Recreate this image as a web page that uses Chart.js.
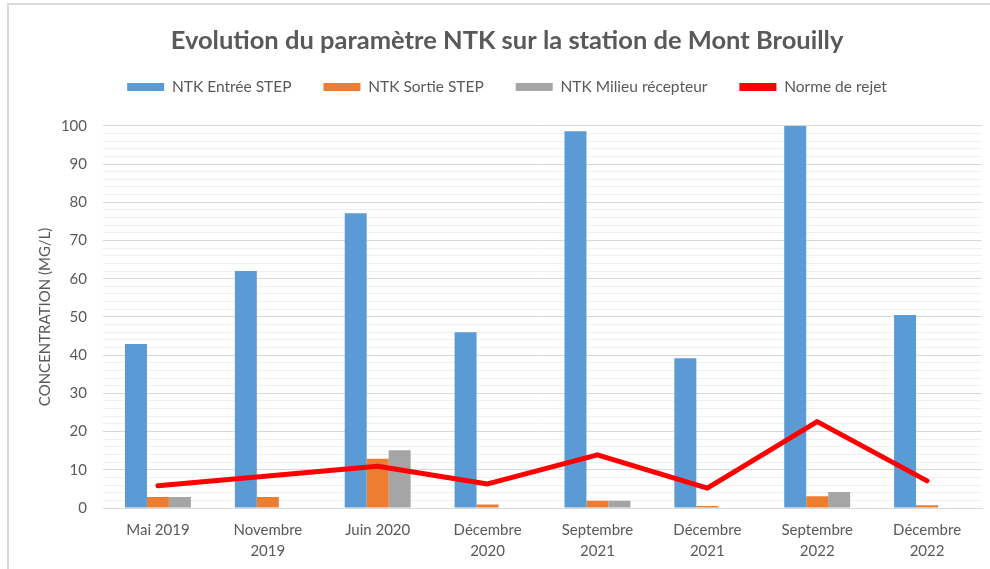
<!DOCTYPE html>
<html lang="fr">
<head>
<meta charset="utf-8">
<title>Evolution du paramètre NTK</title>
<script src="https://cdn.jsdelivr.net/npm/chart.js@4.4.0/dist/chart.umd.min.js"></script>
<style>
  html, body { margin: 0; padding: 0; background: #fff; overflow: hidden; }
  #frame { position: absolute; left: 7px; top: 3px; width: 1200px; height: 800px; border: 2px solid #d9d9d9; }
  #chart { position: absolute; left: 0; top: 0; }
</style>
</head>
<body>
<div id="frame"></div>
<canvas id="chart" width="990" height="569"></canvas>
<script>
// Campagnes de mesure
const campagnes = [
  'Mai 2019',
  ['Novembre', '2019'],
  'Juin 2020',
  ['Décembre', '2020'],
  ['Septembre', '2021'],
  ['Décembre', '2021'],
  ['Septembre', '2022'],
  ['Décembre', '2022']
];

// Concentrations NTK (mg/L)
const ntkEntree = [42.9, 62.0, 77.1, 46.0, 98.6, 39.2, 100, 50.5];
const ntkSortie = [2.9, 2.9, 12.9, 0.9, 1.9, 0.5, 3.1, 0.7];
const ntkMilieu = [2.9, null, 15.1, null, 1.9, null, 4.2, null];
const normeRejet = [5.8, 8.4, 10.9, 6.3, 13.9, 5.2, 22.6, 7.1];

// Graduations de l'axe vertical
const yMin = 0;
const yMax = 100;
const yPasMineur = 2;
const yPasMajeur = 10;

const gris = '#595959';
Chart.defaults.font.family = 'Lato, "Liberation Sans", sans-serif';
Chart.defaults.color = gris;

// laisse un peu d'air entre la légende et la zone de tracé
const legendSpacer = {
  id: 'legendSpacer',
  beforeLayout(chart) {
    if (chart.legend && !chart.legend._spaced) {
      const fit = chart.legend.fit;
      chart.legend.fit = function () {
        fit.call(this);
        this.height += 21;
      };
      chart.legend._spaced = true;
    }
  }
};

new Chart(document.getElementById('chart'), {
  type: 'bar',
  data: {
    labels: campagnes,
    datasets: [
      { label: 'NTK Entrée STEP', data: ntkEntree, backgroundColor: '#5b9bd5' },
      { label: 'NTK Sortie STEP', data: ntkSortie, backgroundColor: '#ed7d31' },
      { label: 'NTK Milieu récepteur', data: ntkMilieu, backgroundColor: '#a5a5a5' },
      {
        type: 'line',
        label: 'Norme de rejet',
        data: normeRejet,
        borderColor: '#ff0000',
        backgroundColor: '#ff0000',
        borderWidth: 5,
        borderCapStyle: 'round',
        borderJoinStyle: 'round',
        pointRadius: 0,
        fill: false,
        tension: 0,
        order: -1
      }
    ]
  },
  options: {
    responsive: false,
    animation: false,
    devicePixelRatio: 1,
    categoryPercentage: 0.6,
    barPercentage: 1,
    layout: { padding: { left: 32, right: 8, top: 0, bottom: 0 } },
    plugins: {
      tooltip: { enabled: false },
      title: {
        display: true,
        text: 'Evolution du paramètre NTK sur la station de Mont Brouilly',
        color: gris,
        font: { size: 25.5, weight: 'bold', lineHeight: 1.2 },
        padding: { top: 25.7, bottom: -9 }
      },
      legend: {
        position: 'top',
        labels: {
          color: gris,
          font: { size: 15.5 },
          boxWidth: 37,
          boxHeight: 8,
          padding: 32,
          sort: (a, b) => a.datasetIndex - b.datasetIndex,
          generateLabels(chart) {
            const items = Chart.defaults.plugins.legend.labels.generateLabels(chart);
            items.forEach(item => { item.lineWidth = 0; });
            return items;
          }
        }
      }
    },
    scales: {
      x: {
        grid: { display: false, drawTicks: false },
        border: { display: true, color: '#d9d9d9', width: 1 },
        ticks: {
          color: gris,
          font: { size: 15, lineHeight: 1.45 },
          padding: 11,
          maxRotation: 0,
          autoSkip: false
        },
        afterFit(scale) { scale.height = 61; }
      },
      y: {
        min: yMin,
        max: yMax,
        border: { display: false },
        grid: {
          drawTicks: false,
          color: ctx => (ctx.tick && ctx.tick.value % yPasMajeur === 0) ? '#d9d9d9' : '#f0f0f0',
          lineWidth: 1
        },
        ticks: {
          stepSize: yPasMineur,
          maxTicksLimit: 100,
          autoSkip: false,
          padding: 16,
          color: gris,
          font: { size: 15 },
          callback: v => (v % yPasMajeur === 0 ? v : '')
        },
        title: {
          display: true,
          text: 'CONCENTRATION (MG/L)',
          color: gris,
          font: { size: 15 },
          padding: { top: 4, bottom: 0 }
        },
        afterFit(scale) { scale.width = 71; }
      }
    }
  },
  plugins: [legendSpacer]
});
</script>
</body>
</html>
